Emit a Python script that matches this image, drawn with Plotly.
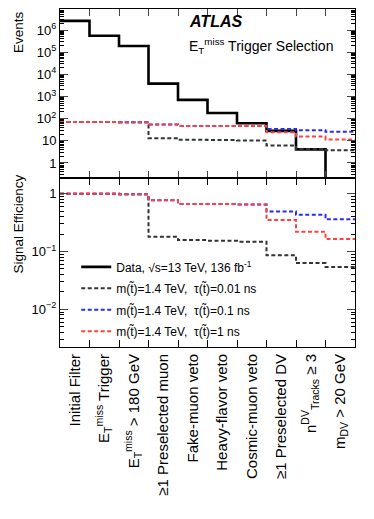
import plotly.graph_objects as go
from plotly.subplots import make_subplots

# cut-flow steps (x categories)
cuts = [
    "Initial Filter",
    "E<sub>T</sub><sup>miss</sup> Trigger",
    "E<sub>T</sub><sup>miss</sup> > 180 GeV",
    "≥1 Preselected muon",
    "Fake-muon veto",
    "Heavy-flavor veto",
    "Cosmic-muon veto",
    "≥1 Preselected DV",
    "n<sup>DV</sup><sub>Tracks</sub> ≥ 3",
    "m<sub>DV</sub> > 20 GeV",
]

# events passing each cut (top panel); last data bin is empty (below axis)
data_events = [2.6e6, 5.5e5, 1.9e5, 3.8e3, 700, 180, 62, 28, 4.1, 1e-3]
sig_001_events = [70, 70, 69, 13, 11, 10.8, 10.2, 6.1, 4.3, 3.7]
sig_01_events = [70, 70, 69, 55, 47, 47, 46, 34, 30, 25.5]
sig_1_events = [70, 70, 69, 55, 47, 47, 46, 24, 15.5, 11.5]

# signal efficiency (bottom panel)
eff_001 = [1.0, 1.0, 0.98, 0.18, 0.158, 0.154, 0.148, 0.086, 0.063, 0.054]
eff_01 = [1.0, 1.0, 0.98, 0.77, 0.66, 0.66, 0.65, 0.49, 0.43, 0.36]
eff_1 = [1.0, 1.0, 0.98, 0.77, 0.66, 0.66, 0.65, 0.35, 0.22, 0.164]

# legend labels
lbl_data = "Data, √s=13 TeV, 136 fb<sup>-1</sup>"
lbl_001 = "m(t̃)=1.4 TeV,  τ(t̃)=0.01 ns"
lbl_01 = "m(t̃)=1.4 TeV,  τ(t̃)=0.1 ns"
lbl_1 = "m(t̃)=1.4 TeV,  τ(t̃)=1 ns"

FONT = "Liberation Sans, Arial, Helvetica, sans-serif"
DASH = "4px,2.5px"
C_001, C_01, C_1 = "#333333", "#2b2bf0", "#ff4040"

nb = len(cuts)
edges = list(range(nb + 1))
centers = [i + 0.5 for i in range(nb)]


def step(vals):
    return list(vals) + [vals[-1]]


fig = make_subplots(rows=2, cols=1, shared_xaxes=True, vertical_spacing=0)

# top panel
fig.add_trace(go.Scatter(x=edges, y=step(data_events), mode="lines", line_shape="hv",
                         line=dict(color="black", width=2.6), name=lbl_data,
                         legendgroup="data"), row=1, col=1)
for vals, col in [(sig_001_events, C_001), (sig_01_events, C_01), (sig_1_events, C_1)]:
    fig.add_trace(go.Scatter(x=edges, y=step(vals), mode="lines", line_shape="hv",
                             line=dict(color=col, width=2, dash=DASH), showlegend=False),
                  row=1, col=1)

# bottom panel
for vals, col, lbl in [(eff_001, C_001, lbl_001), (eff_01, C_01, lbl_01), (eff_1, C_1, lbl_1)]:
    fig.add_trace(go.Scatter(x=edges, y=step(vals), mode="lines", line_shape="hv",
                             line=dict(color=col, width=2, dash=DASH), name=lbl,
                             legendgroup=lbl), row=2, col=1)

inner_edges = edges[1:-1]
frame = dict(showline=True, linecolor="black", linewidth=1, mirror="allticks",
             showgrid=False, zeroline=False)

fig.update_xaxes(range=[0, nb], **frame)
fig.update_xaxes(tickmode="array", tickvals=inner_edges, ticks="inside", ticklen=7,
                 showticklabels=False, row=1, col=1)
fig.update_xaxes(tickmode="array", tickvals=centers, ticktext=cuts, ticks="",
                 tickangle=-90, tickfont=dict(size=15, color="black"),
                 minor=dict(tickvals=inner_edges, ticks="inside", ticklen=7, tickcolor="black"),
                 row=2, col=1)


def log_minor(lo, hi):
    return [k * 10.0 ** d for d in range(lo, hi) for k in range(2, 10)]


fig.update_yaxes(type="log", range=[-0.68, 6.95], tickmode="array",
                 tickvals=[1, 10, 1e2, 1e3, 1e4, 1e5, 1e6],
                 ticktext=["1", "10", "10<sup>2</sup>", "10<sup>3</sup>", "10<sup>4</sup>",
                           "10<sup>5</sup>", "10<sup>6</sup>"],
                 ticks="inside", ticklen=8, tickfont=dict(size=13, color="black"),
                 minor=dict(tickvals=log_minor(-1, 7), ticks="inside", ticklen=4,
                            tickcolor="black"),
                 row=1, col=1, **frame)
fig.update_yaxes(type="log", range=[-2.65, 0.27], tickmode="array",
                 tickvals=[1e-2, 1e-1, 1],
                 ticktext=["10<sup>−2</sup>", "10<sup>−1</sup>", "1"],
                 ticks="inside", ticklen=8, tickfont=dict(size=13, color="black"),
                 minor=dict(tickvals=log_minor(-3, 1), ticks="inside", ticklen=4,
                            tickcolor="black"),
                 row=2, col=1, **frame)

fig.add_annotation(text="<b><i>ATLAS</i></b>", xref="paper", yref="paper", x=0.43, y=0.962,
                   xanchor="left", yanchor="middle", showarrow=False,
                   font=dict(size=16, color="black"))
fig.add_annotation(text="E<sub>T</sub><sup>miss</sup> Trigger Selection", xref="paper",
                   yref="paper", x=0.43, y=0.89, xanchor="left", yanchor="middle",
                   showarrow=False, font=dict(size=14, color="black"))
fig.add_annotation(text="Events", xref="paper", yref="paper", x=-0.142, y=1.0,
                   xanchor="center", yanchor="top", textangle=-90, showarrow=False,
                   font=dict(size=13.5, color="black"))
fig.add_annotation(text="Signal Efficiency", xref="paper", yref="paper", x=-0.142, y=0.515,
                   xanchor="center", yanchor="top", textangle=-90, showarrow=False,
                   font=dict(size=13.5, color="black"))

# the page body adds an 8px offset, so the figure is 16px smaller than the window
fig.update_layout(
    width=366, height=511,
    margin=dict(l=52, r=19, t=1, b=172, autoexpand=False),
    paper_bgcolor="white", plot_bgcolor="white",
    font=dict(family=FONT, color="black"),
    legend=dict(x=0.055, y=0.28, xanchor="left", yanchor="top", tracegroupgap=2.5,
                bgcolor="rgba(0,0,0,0)", font=dict(size=12), itemwidth=30),
)

fig.write_html("out.html")
